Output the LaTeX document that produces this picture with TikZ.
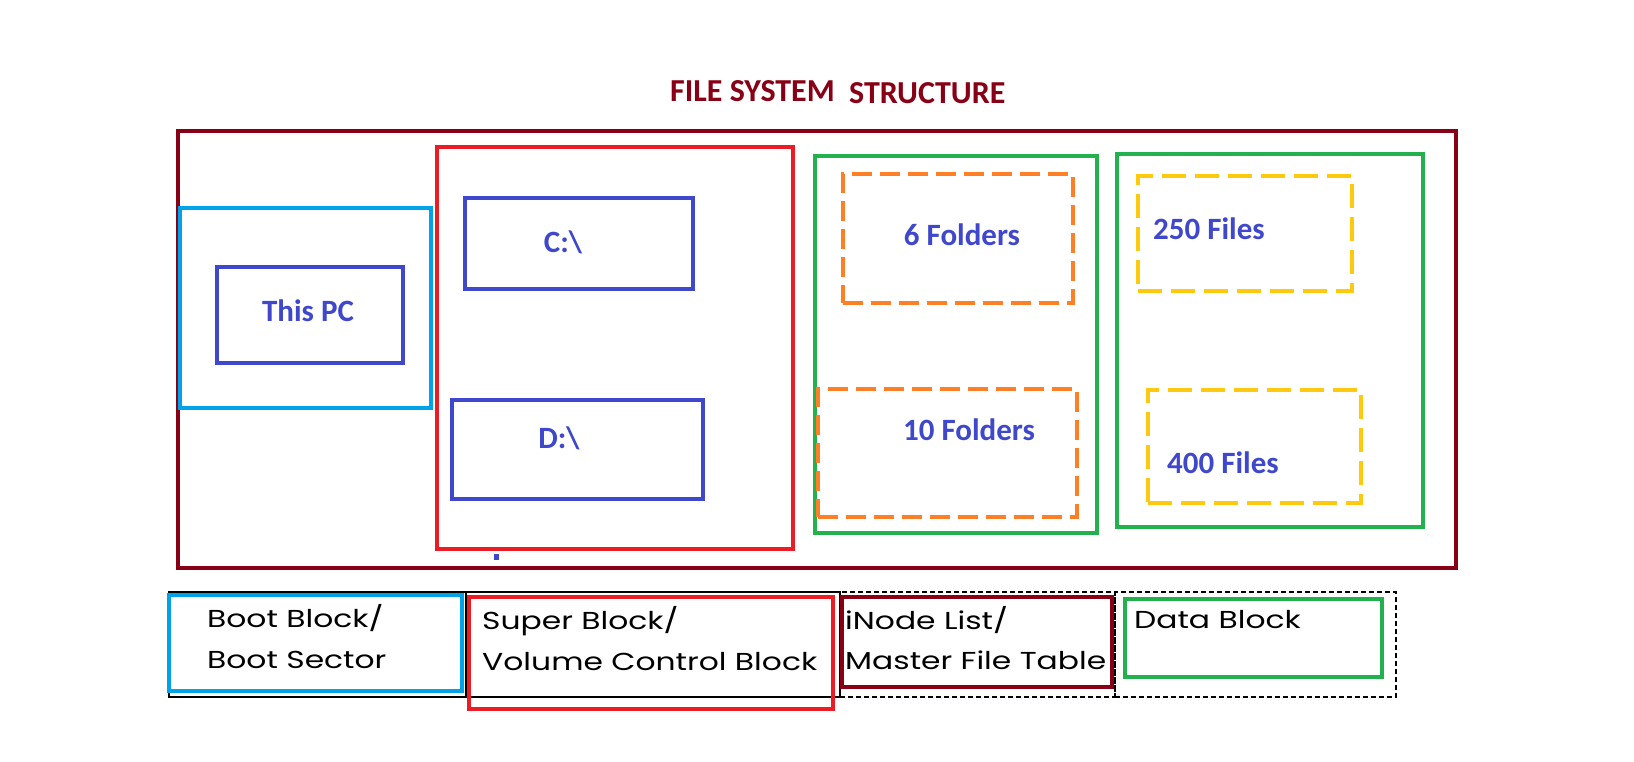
\documentclass[tikz,border=0pt]{standalone}
\usepackage{fontspec}
\setmainfont{Carlito}
\newfontfamily\legendfont[FakeStretch=1.28]{Poppins}
\definecolor{dred}{HTML}{880015}
\definecolor{pred}{HTML}{ED1C24}
\definecolor{pcyan}{HTML}{00A2E8}
\definecolor{pblue}{HTML}{3F48CC}
\definecolor{pgreen}{HTML}{22B14C}
\definecolor{porange}{HTML}{FF7F27}
\definecolor{pyellow}{HTML}{FFC90E}
\tikzset{
  boxs/.style={draw, line width=4pt, inner sep=0pt, outer sep=0pt, rectangle},
  lbl/.style={text=pblue, font=\fontsize{31}{36}\selectfont\bfseries, inner sep=0pt},
  ttl/.style={text=dred, font=\fontsize{32}{38}\selectfont\bfseries, inner sep=0pt, anchor=west},
  leg/.style={text=black, font=\legendfont\fontsize{24.5}{29}\selectfont, inner sep=0pt, anchor=west},
  odash/.style={dash pattern=on 20pt off 8pt},
  ydash/.style={dash pattern=on 24pt off 9pt},
  kdash/.style={dash pattern=on 5pt off 3pt},
}
\newcommand{\bx}[6]{%
  \node[#2, minimum width={(#5-#3)*1pt}, minimum height={(#6-#4)*1pt}] (#1) at ({(#3+#5)/2},{(#4+#6)/2}) {};}
\begin{document}
\begin{tikzpicture}[x=1pt, y=-1pt]
\useasboundingbox[fill=white] (0,0) rectangle (1634,762);
% title
\node[ttl] (t1) at (670,91) {FILE SYSTEM};
\node[ttl] (t2) at (849,93) {STRUCTURE};
% main frame
\bx{outer}{boxs, dred}{178}{131}{1456}{568}
\bx{boot}{boxs, pcyan}{180}{208}{431}{408}
\bx{thispc}{boxs, pblue}{217}{267}{403}{363}
\bx{sup}{boxs, pred}{437}{147}{793}{549}
\bx{cdrv}{boxs, pblue}{465}{198}{693}{289}
\bx{ddrv}{boxs, pblue}{452}{400}{703}{499}
\bx{inode}{boxs, pgreen}{815}{156}{1097}{533}
\bx{fold6}{boxs, porange, odash}{843}{174}{1073}{303}
\bx{fold10}{boxs, porange, odash}{818}{389}{1077}{517}
\bx{data}{boxs, pgreen}{1117}{154}{1423}{527}
\bx{files250}{boxs, pyellow, ydash}{1138}{176}{1352}{291}
\bx{files400}{boxs, pyellow, ydash}{1148}{390}{1361}{503}
\node[fill=pblue, minimum width=5pt, minimum height=6pt, inner sep=0pt] (dot) at (496,557) {};
% labels
\node[lbl] (lpc) at (308,311) {This PC};
\node[lbl] (lc) at (563,242) {C:\textbackslash};
\node[lbl] (ld) at (559,438) {D:\textbackslash};
\node[lbl] (l6) at (962,235) {6 Folders};
\node[lbl] (l10) at (969,430) {10 Folders};
\node[lbl, anchor=west] (l250) at (1153,229) {250 Files};
\node[lbl, anchor=west] (l400) at (1167,463) {400 Files};
% legend
\bx{k1}{draw, black, line width=1.5pt, inner sep=0pt}{169}{592}{466}{697}
\bx{k2}{draw, black, line width=1.5pt, inner sep=0pt}{466}{592}{840}{697}
\bx{k3}{draw, black, line width=1.5pt, kdash, inner sep=0pt}{840}{592}{1115}{697}
\bx{k4}{draw, black, line width=1.5pt, kdash, inner sep=0pt}{1115}{592}{1396}{697}
\bx{c1}{boxs, pcyan}{169}{595}{462}{691}
\bx{c2}{boxs, pred}{469}{597}{833}{709}
\bx{c3}{boxs, dred}{842}{597}{1112}{687}
\bx{c4}{boxs, pgreen}{1125}{599}{1382}{677}
\node[leg] (g1a) at (207,618) {Boot Block/};
\node[leg] (g1b) at (207,660) {Boot Sector};
\node[leg] (g2a) at (482,621) {Super Block/};
\node[leg] (g2b) at (482,662) {Volume Control Block};
\node[leg] (g3a) at (845,620) {iNode List/};
\node[leg] (g3b) at (845,660) {Master File Table};
\node[leg] (g4a) at (1134,620) {Data Block};
\end{tikzpicture}
\end{document}
